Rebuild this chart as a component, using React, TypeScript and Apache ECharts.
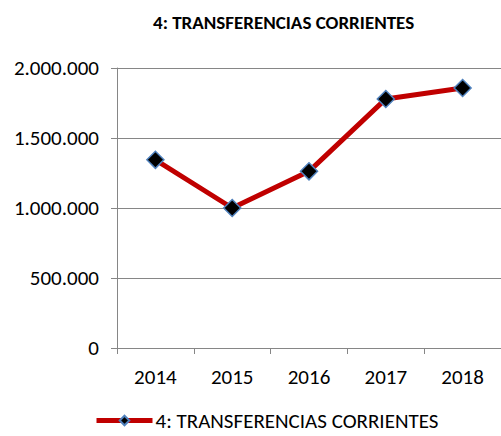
import React, { useEffect, useRef } from "react";
import * as echarts from "echarts";

const categories = ["2014", "2015", "2016", "2017", "2018"];
const values = [1344000, 1000000, 1262000, 1779000, 1857000];
const seriesName = "4: TRANSFERENCIAS CORRIENTES";
const titleText = "4: TRANSFERENCIAS CORRIENTES";

const fmt = (v: number) => String(Math.round(v)).replace(/\B(?=(\d{3})+(?!\d))/g, ".");

export default function App() {
  const ref = useRef<HTMLDivElement>(null);
  useEffect(() => {
    const chart = echarts.init(ref.current!, null, { renderer: "svg" });
    const font = "Carlito, Lato, 'Open Sans', sans-serif";
    chart.setOption({
      animation: false,
      title: {
        text: titleText,
        left: 148,
        top: 8,
        textStyle: { fontFamily: font, fontSize: 19, fontWeight: "bold", color: "#000" },
      },
      legend: {
        bottom: 0,
        left: 89,
        itemWidth: 56,
        itemHeight: 12,
        itemGap: 4,
        lineStyle: { width: 5 },
        textStyle: { fontFamily: font, fontSize: 21, color: "#000", padding: [0, 0, 0, -2] },
        data: [seriesName],
      },
      grid: { left: 117, right: -5, top: 68, bottom: 88, containLabel: false },
      xAxis: {
        type: "category",
        data: categories,
        boundaryGap: true,
        axisLine: { lineStyle: { color: "#868686", width: 1 } },
        axisTick: { show: true, length: 6, lineStyle: { color: "#868686" } },
        axisLabel: { fontFamily: font, fontSize: 21, color: "#000", margin: 18 },
      },
      yAxis: {
        type: "value",
        min: 0,
        max: 2000000,
        interval: 500000,
        axisLine: { show: true, lineStyle: { color: "#868686", width: 1 } },
        axisTick: { show: true, length: 6, lineStyle: { color: "#868686" } },
        splitLine: { lineStyle: { color: "#868686", width: 1 } },
        axisLabel: { fontFamily: font, fontSize: 21, color: "#000", margin: 18, formatter: fmt },
      },
      series: [
        {
          name: seriesName,
          type: "line",
          data: values,
          symbol: "diamond",
          symbolSize: 17,
          lineStyle: { color: "#c00000", width: 5 },
          itemStyle: { color: "#000", borderColor: "#4f81bd", borderWidth: 1.5 },
        },
      ],
    });
    return () => chart.dispose();
  }, []);
  return <div ref={ref} style={{ width: 501, height: 436, position: "absolute", left: 0, top: 0 }} />;
}
